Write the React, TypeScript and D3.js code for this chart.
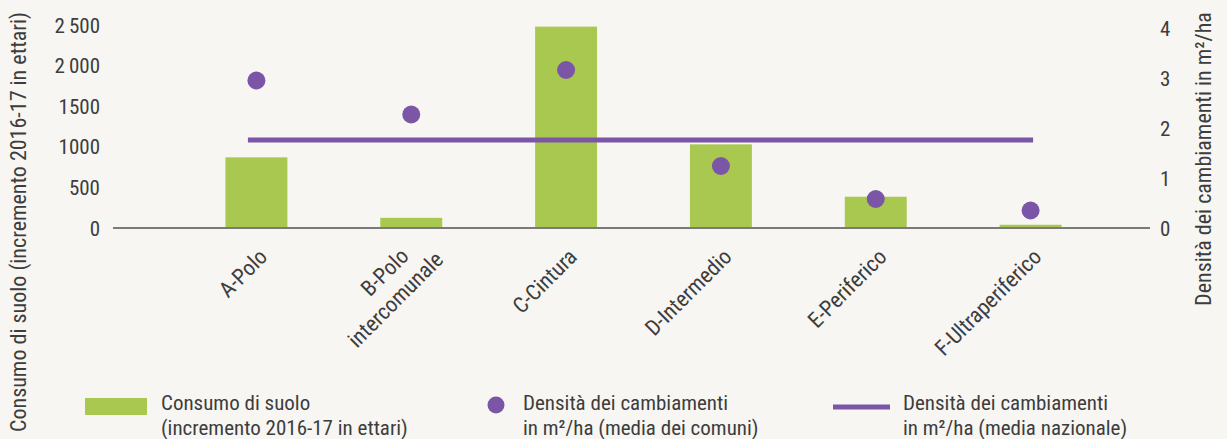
import React from 'react';
import * as d3 from 'd3';

const categories = ['A-Polo', 'B-Polo\nintercomunale', 'C-Cintura', 'D-Intermedio', 'E-Periferico', 'F-Ultraperiferico'];
const consumoSuolo = [870, 125, 2480, 1030, 385, 40];
const densitaComuni = [2.95, 2.27, 3.16, 1.24, 0.58, 0.35];
const densitaNazionale = 1.76;
const leftTicks = [0, 500, 1000, 1500, 2000, 2500];
const leftTickLabels = ['0', '500', '1000', '1500', '2\u2009000', '2\u2009500'];
const rightTicks = [0, 1, 2, 3, 4];
const leftTitle = 'Consumo di suolo (incremento 2016-17 in ettari)';
const rightTitle = 'Densità dei cambiamenti in m²/ha';
const legendItems = [
  ['Consumo di suolo', '(incremento 2016-17 in ettari)'],
  ['Densità dei cambiamenti', 'in m²/ha (media dei comuni)'],
  ['Densità dei cambiamenti', 'in m²/ha (media nazionale)'],
];

const W = 1227;
const H = 439;
const FONT = "'Roboto Condensed', 'Liberation Sans Narrow', 'DejaVu Sans Condensed', 'Arial Narrow', Roboto, sans-serif";
const TEXT = '#3d3d3d';
const GREEN = '#a9c84f';
const PURPLE = '#7c56a6';

export default function App() {
  const x = d3.scaleBand<string>().domain(categories).range([179, 1108]).paddingInner(0.6).paddingOuter(0.3);
  const yL = d3.scaleLinear().domain([0, 2500]).range([228, 25]);
  const yR = d3.scaleLinear().domain([0, 4]).range([228, 28]);
  const cx = (c: string) => (x(c) as number) + x.bandwidth() / 2;

  return (
    <svg width={W} height={H} style={{ position: 'absolute', left: 0, top: 0 }} fontFamily={FONT}>
      <rect width={W} height={H} fill="#f7f6f3" />
      {/* bars */}
      {categories.map((c, i) => (
        <rect key={c} x={x(c)} y={yL(consumoSuolo[i])} width={x.bandwidth()} height={yL(0) - yL(consumoSuolo[i])} fill={GREEN} />
      ))}
      {/* axis line */}
      <line x1={113} x2={1150} y1={yL(0)} y2={yL(0)} stroke="#7a7a7a" strokeWidth={2} />
      {/* national average line */}
      <line x1={cx(categories[0]) - 8.5} x2={cx(categories[categories.length - 1]) + 2.5} y1={yR(densitaNazionale)} y2={yR(densitaNazionale)} stroke={PURPLE} strokeWidth={5} />
      {/* dots */}
      {categories.map((c, i) => (
        <circle key={c} cx={cx(c)} cy={yR(densitaComuni[i])} r={9} fill={PURPLE} />
      ))}
      {/* left ticks */}
      {leftTicks.map((t, i) => (
        <text key={t} x={100} y={yL(t)} dy="0.36em" textAnchor="end" fontSize={21} fill={TEXT}>{leftTickLabels[i]}</text>
      ))}
      {/* right ticks */}
      {rightTicks.map((t) => (
        <text key={t} x={1160} y={yR(t)} dy="0.36em" textAnchor="start" fontSize={21} fill={TEXT}>{t}</text>
      ))}
      {/* axis titles */}
      <text transform={`translate(26,222) rotate(-90)`} textAnchor="middle" fontSize={22} fill={TEXT}>{leftTitle}</text>
      <text transform={`translate(1211,159) rotate(-90)`} textAnchor="middle" fontSize={22} fill={TEXT}>{rightTitle}</text>
      {/* x labels */}
      {categories.map((c) => {
        const lines = c.split('\n');
        return (
          <g key={c} transform={`translate(${cx(c) + 1},247) rotate(-45)`}>
            {lines.map((l, j) => {
              const lx = lines.length > 1 ? (j === 0 ? -9 : 13) : 0;
              const ly = lines.length > 1 ? (j === 0 ? -10 : 17) : 0;
              return (
                <text key={j} x={lx} y={ly} dy="0.72em" textAnchor="end" fontSize={22} fill={TEXT}>{l}</text>
              );
            })}
          </g>
        );
      })}
      {/* legend */}
      <rect x={85} y={398} width={62} height={17} fill={GREEN} />
      <circle cx={496} cy={405} r={8.5} fill={PURPLE} />
      <line x1={833} x2={890} y1={407} y2={407} stroke={PURPLE} strokeWidth={5} />
      {legendItems.map((it, i) => {
        const lx = [161, 523, 903][i];
        return (
          <text key={i} x={lx} fontSize={21} fill={TEXT}>
            <tspan x={lx} y={410}>{it[0]}</tspan>
            <tspan x={lx} y={435}>{it[1]}</tspan>
          </text>
        );
      })}
    </svg>
  );
}
